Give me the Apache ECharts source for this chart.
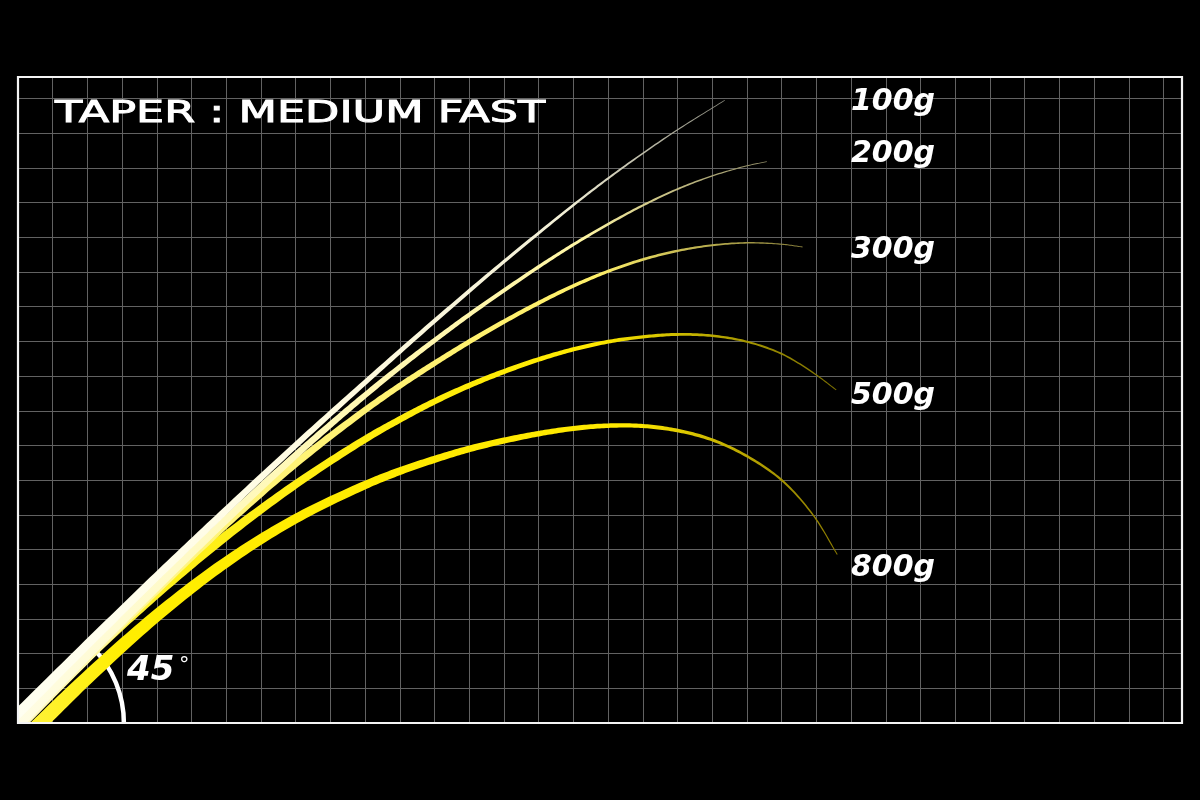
<!DOCTYPE html>
<html><head><meta charset="utf-8">
<script src="https://cdn.jsdelivr.net/npm/echarts@6/dist/echarts.min.js"></script>
<style>html,body{margin:0;padding:0;background:#000}#c{width:1200px;height:800px}</style>
</head><body><div id="c"></div>
<script>
// grid extent, in grid squares
const gridSquaresX = 33.53;
const gridSquaresY = 18.62;

// rod bending curves (x, y in grid squares from bottom-left corner)
const curve100 = [[-0.6,-0.32],[0,0.28],[2,2.27],[4,4.23],[6,6.14],[8,8.01],[10,9.82],[12,11.59],[14,13.3],[16,14.93],[17,15.7],[18,16.42],[19,17.1],[20.36,17.95]];
const curve200 = [[-0.6,-0.63],[0,-0.03],[2,1.97],[4,3.94],[6,5.87],[8,7.72],[9,8.6],[10,9.45],[11,10.26],[12,11.03],[13,11.77],[14,12.47],[15,13.15],[16,13.79],[17,14.38],[18,14.92],[19,15.39],[20,15.77],[21,16.06],[21.57,16.18]];
const curve300 = [[-0.6,-0.69],[0,-0.09],[2,1.91],[4,3.87],[6,5.75],[8,7.48],[10,9.02],[11,9.72],[12,10.37],[13,10.99],[14,11.57],[15,12.11],[16,12.6],[17,13.02],[18,13.36],[19,13.61],[20,13.77],[21,13.84],[22,13.8],[22.6,13.72]];
const curve500 = [[-0.6,-0.6],[0,0],[2,1.94],[4,3.75],[6,5.4],[8,6.88],[10,8.18],[11,8.75],[12,9.27],[13,9.73],[14,10.13],[15,10.48],[16,10.77],[17,10.99],[18,11.13],[19,11.2],[20,11.16],[21,10.99],[22,10.64],[22.9,10.1],[23.57,9.6]];
const curve800 = [[0,-0.65],[0.65,0],[2,1.31],[4,3.1],[6,4.64],[8,5.89],[10,6.86],[11,7.26],[12,7.6],[13,7.9],[14,8.14],[15,8.34],[16,8.49],[17,8.57],[18,8.56],[19,8.43],[20,8.16],[21,7.69],[22,7.0],[22.9,6.0],[23.6,4.86]];

const loadLabels = ['100g', '200g', '300g', '500g', '800g'];
const titleText = 'TAPER : MEDIUM FAST';
const angleText = '45';

// styles (drawn bottom to top)
const curves = [
  {name:'800g', points:curve800, base:15, tip:1.0, pow:1.1, stops:[[0,'#fff340'],[0.15,'#ffee00'],[0.8,'#ffe800'],[1,'#8a7a00']]},
  {name:'500g', points:curve500, base:13, tip:1.0, pow:1.05, stops:[[0,'#fff6a0'],[0.25,'#fff01a'],[0.78,'#ffea00'],[1,'#7a6e00']]},
  {name:'300g', points:curve300, base:12, tip:0.9, pow:1.0, stops:[[0,'#fffad0'],[0.3,'#fff47a'],[0.8,'#fff06a'],[1,'#857c3a']]},
  {name:'200g', points:curve200, base:11, tip:0.8, pow:1.0, stops:[[0,'#fffde8'],[0.35,'#fff9bc'],[0.8,'#fff6a4'],[1,'#8c8864']]},
  {name:'100g', points:curve100, base:10, tip:0.7, pow:1.0, stops:[[0,'#fffff2'],[0.5,'#fffbe0'],[0.8,'#f2efd6'],[1,'#86867a']]}
];

// centripetal Catmull-Rom point between p1 and p2
function crPoint(p0, p1, p2, p3, u) {
  const d = (a, b) => Math.max(1e-4, Math.pow(Math.hypot(b[0] - a[0], b[1] - a[1]), 0.5));
  const t0 = 0, t1 = t0 + d(p0, p1), t2 = t1 + d(p1, p2), t3 = t2 + d(p2, p3);
  const t = t1 + (t2 - t1) * u;
  const lerp = (a, b, ta, tb) => { const w = (t - ta) / (tb - ta); return [a[0] + (b[0] - a[0]) * w, a[1] + (b[1] - a[1]) * w]; };
  const A1 = lerp(p0, p1, t0, t1), A2 = lerp(p1, p2, t1, t2), A3 = lerp(p2, p3, t2, t3);
  const B1 = lerp(A1, A2, t0, t2), B2 = lerp(A2, A3, t1, t3);
  return lerp(B1, B2, t1, t2);
}

function taperRender(c) {
  return function (params, api) {
    if (params.dataIndex !== 0) return null;
    const px = c.points.map(p => api.coord(p));
    const N = px.length;
    const ext = (a, b) => [2 * a[0] - b[0], 2 * a[1] - b[1]];
    const dense = [];
    for (let i = 0; i < N - 1; i++) {
      const p0 = i > 0 ? px[i - 1] : ext(px[0], px[1]);
      const p3 = i + 2 < N ? px[i + 2] : ext(px[N - 1], px[N - 2]);
      for (let k = 0; k < 16; k++) dense.push(crPoint(p0, px[i], px[i + 1], p3, k / 16));
    }
    dense.push(px[N - 1]);
    const n = dense.length;
    const acc = [0];
    for (let i = 1; i < n; i++) acc.push(acc[i - 1] + Math.hypot(dense[i][0] - dense[i - 1][0], dense[i][1] - dense[i - 1][1]));
    const total = acc[n - 1];
    const L = [], R = [];
    for (let i = 0; i < n; i++) {
      const a = dense[Math.max(0, i - 1)], b = dense[Math.min(n - 1, i + 1)];
      let tx = b[0] - a[0], ty = b[1] - a[1];
      const len = Math.hypot(tx, ty) || 1; tx /= len; ty /= len;
      const s = acc[i] / total;
      const h = (c.tip + (c.base - c.tip) * Math.pow(1 - s, c.pow)) / 2;
      L.push([dense[i][0] - ty * h, dense[i][1] + tx * h]);
      R.push([dense[i][0] + ty * h, dense[i][1] - tx * h]);
    }
    const poly = L.concat(R.reverse());
    const st = px[0], en = px[N - 1];
    const grad = new echarts.graphic.LinearGradient(st[0], st[1], en[0], en[1],
      c.stops.map(s => ({offset: s[0], color: s[1]})), true);
    return {type: 'polygon', shape: {points: poly}, style: {fill: grad}};
  };
}

const chart = echarts.init(document.getElementById('c'));
const axisCommon = {
  type: 'value', min: 0, interval: 1,
  axisLine: {show: false}, axisTick: {show: false}, axisLabel: {show: false},
  splitLine: {show: true, lineStyle: {color: '#626262', width: 1}}
};
chart.setOption({
  backgroundColor: '#000',
  animation: false,
  grid: {left: 18, right: 18, top: 77, bottom: 77, show: false},
  xAxis: Object.assign({}, axisCommon, {max: gridSquaresX}),
  yAxis: Object.assign({}, axisCommon, {max: gridSquaresY}),
  series: curves.map(c => ({
    type: 'custom', name: c.name, coordinateSystem: 'cartesian2d', clip: true, silent: true,
    data: c.points, encode: {x: 0, y: 1}, renderItem: taperRender(c)
  }))
});

const o = chart.convertToPixel({gridIndex: 0}, [0, 0]);
const m = chart.convertToPixel({gridIndex: 0}, [gridSquaresX, gridSquaresY]);
const arcR = chart.convertToPixel({gridIndex: 0}, [3.05, 0])[0] - o[0];
const labelY = [102, 154, 250, 396, 568];
const labelFont = 'italic bold 30px "DejaVu Sans"';

const graphics = [
  {type: 'arc', z: 1, shape: {cx: o[0], cy: o[1], r: arcR, startAngle: -0.78, endAngle: 0, clockwise: true},
   style: {stroke: '#ffffff', lineWidth: 4.5, fill: null}},
  {type: 'rect', z: 100, shape: {x: o[0], y: m[1], width: m[0] - o[0], height: o[1] - m[1]},
   style: {fill: null, stroke: '#f4f4f4', lineWidth: 2.2}},
  {type: 'text', z: 100, x: 55, y: 114, scaleX: 1.485,
   style: {text: titleText, fill: '#ffffff', stroke: '#ffffff', lineWidth: 0.9, font: 'normal 30px "DejaVu Sans"', textAlign: 'left', textVerticalAlign: 'middle'}},
  {type: 'text', z: 100, x: 127, y: 671,
   style: {text: angleText, fill: '#ffffff', font: 'italic bold 34px "DejaVu Sans"', textAlign: 'left', textVerticalAlign: 'middle'}},
  {type: 'text', z: 100, x: 179, y: 667,
   style: {text: '°', fill: '#ffffff', font: 'normal 21px "DejaVu Sans"', textAlign: 'left', textVerticalAlign: 'middle'}}
];
loadLabels.forEach((t, i) => graphics.push({
  type: 'text', z: 100, x: 851, y: labelY[i],
  style: {text: t, fill: '#ffffff', font: labelFont, textAlign: 'left', textVerticalAlign: 'middle'}
}));
chart.setOption({graphic: graphics});
</script>
</body></html>
